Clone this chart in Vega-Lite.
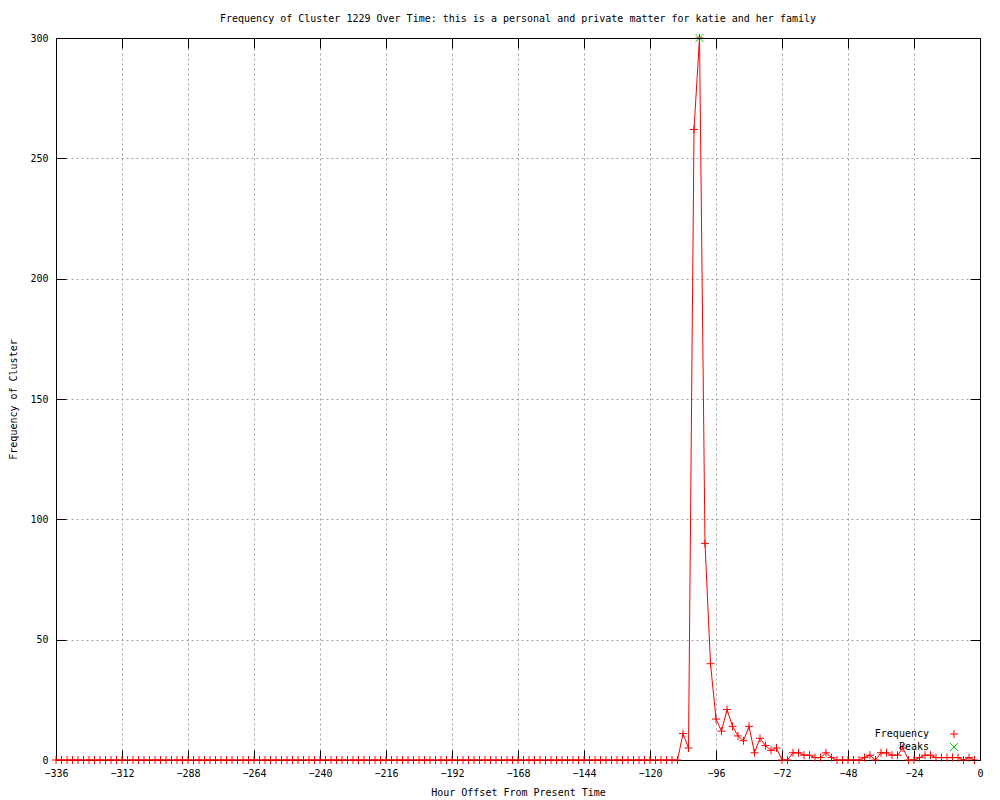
{
"$schema": "https://vega.github.io/schema/vega-lite/v6.json",
"width": 924,
"height": 722,
"autosize": {"type": "none"},
"padding": {"left": 56, "top": 38, "right": 20, "bottom": 40},
"background": "white",
"config": {
  "font": "DejaVu Sans Mono",
  "view": {"stroke": "black", "strokeWidth": 1},
  "axis": {
    "labelFontSize": 10, "labelColor": "black", "labelFont": "DejaVu Sans Mono",
    "titleFontSize": 10, "titleFontWeight": "normal", "titleColor": "black", "titleFont": "DejaVu Sans Mono",
    "domainColor": "black", "tickColor": "black", "tickSize": -10,
    "gridColor": "#a0a0a0", "gridDash": [2, 3], "gridOpacity": 1, "gridWidth": 1,
    "labelFlush": false, "labelOverlap": false
  }
},
"title": {"text": "Frequency of Cluster 1229 Over Time: this is a personal and private matter for katie and her family", "fontSize": 10, "fontWeight": "normal", "color": "black", "font": "DejaVu Sans Mono", "offset": 8},
"datasets": {
  "freq": [
    {"h": -336, "v": 0}, {"h": -334, "v": 0}, {"h": -332, "v": 0}, {"h": -330, "v": 0}, {"h": -328, "v": 0}, {"h": -326, "v": 0}, {"h": -324, "v": 0}, {"h": -322, "v": 0}, {"h": -320, "v": 0}, {"h": -318, "v": 0}, {"h": -316, "v": 0}, {"h": -314, "v": 0},
    {"h": -312, "v": 0}, {"h": -310, "v": 0}, {"h": -308, "v": 0}, {"h": -306, "v": 0}, {"h": -304, "v": 0}, {"h": -302, "v": 0}, {"h": -300, "v": 0}, {"h": -298, "v": 0}, {"h": -296, "v": 0}, {"h": -294, "v": 0}, {"h": -292, "v": 0}, {"h": -290, "v": 0},
    {"h": -288, "v": 0}, {"h": -286, "v": 0}, {"h": -284, "v": 0}, {"h": -282, "v": 0}, {"h": -280, "v": 0}, {"h": -278, "v": 0}, {"h": -276, "v": 0}, {"h": -274, "v": 0}, {"h": -272, "v": 0}, {"h": -270, "v": 0}, {"h": -268, "v": 0}, {"h": -266, "v": 0},
    {"h": -264, "v": 0}, {"h": -262, "v": 0}, {"h": -260, "v": 0}, {"h": -258, "v": 0}, {"h": -256, "v": 0}, {"h": -254, "v": 0}, {"h": -252, "v": 0}, {"h": -250, "v": 0}, {"h": -248, "v": 0}, {"h": -246, "v": 0}, {"h": -244, "v": 0}, {"h": -242, "v": 0},
    {"h": -240, "v": 0}, {"h": -238, "v": 0}, {"h": -236, "v": 0}, {"h": -234, "v": 0}, {"h": -232, "v": 0}, {"h": -230, "v": 0}, {"h": -228, "v": 0}, {"h": -226, "v": 0}, {"h": -224, "v": 0}, {"h": -222, "v": 0}, {"h": -220, "v": 0}, {"h": -218, "v": 0},
    {"h": -216, "v": 0}, {"h": -214, "v": 0}, {"h": -212, "v": 0}, {"h": -210, "v": 0}, {"h": -208, "v": 0}, {"h": -206, "v": 0}, {"h": -204, "v": 0}, {"h": -202, "v": 0}, {"h": -200, "v": 0}, {"h": -198, "v": 0}, {"h": -196, "v": 0}, {"h": -194, "v": 0},
    {"h": -192, "v": 0}, {"h": -190, "v": 0}, {"h": -188, "v": 0}, {"h": -186, "v": 0}, {"h": -184, "v": 0}, {"h": -182, "v": 0}, {"h": -180, "v": 0}, {"h": -178, "v": 0}, {"h": -176, "v": 0}, {"h": -174, "v": 0}, {"h": -172, "v": 0}, {"h": -170, "v": 0},
    {"h": -168, "v": 0}, {"h": -166, "v": 0}, {"h": -164, "v": 0}, {"h": -162, "v": 0}, {"h": -160, "v": 0}, {"h": -158, "v": 0}, {"h": -156, "v": 0}, {"h": -154, "v": 0}, {"h": -152, "v": 0}, {"h": -150, "v": 0}, {"h": -148, "v": 0}, {"h": -146, "v": 0},
    {"h": -144, "v": 0}, {"h": -142, "v": 0}, {"h": -140, "v": 0}, {"h": -138, "v": 0}, {"h": -136, "v": 0}, {"h": -134, "v": 0}, {"h": -132, "v": 0}, {"h": -130, "v": 0}, {"h": -128, "v": 0}, {"h": -126, "v": 0}, {"h": -124, "v": 0}, {"h": -122, "v": 0},
    {"h": -120, "v": 0}, {"h": -118, "v": 0}, {"h": -116, "v": 0}, {"h": -114, "v": 0}, {"h": -112, "v": 0}, {"h": -110, "v": 0}, {"h": -108, "v": 11}, {"h": -106, "v": 5}, {"h": -104, "v": 262}, {"h": -102, "v": 300}, {"h": -100, "v": 90}, {"h": -98, "v": 40},
    {"h": -96, "v": 17}, {"h": -94, "v": 12}, {"h": -92, "v": 21}, {"h": -90, "v": 14}, {"h": -88, "v": 10}, {"h": -86, "v": 8}, {"h": -84, "v": 14}, {"h": -82, "v": 3}, {"h": -80, "v": 9}, {"h": -78, "v": 6}, {"h": -76, "v": 4}, {"h": -74, "v": 5},
    {"h": -72, "v": 0}, {"h": -70, "v": 0}, {"h": -68, "v": 3}, {"h": -66, "v": 3}, {"h": -64, "v": 2}, {"h": -62, "v": 2}, {"h": -60, "v": 1}, {"h": -58, "v": 1}, {"h": -56, "v": 3}, {"h": -54, "v": 1}, {"h": -52, "v": 0}, {"h": -50, "v": 0},
    {"h": -48, "v": 0}, {"h": -46, "v": 0}, {"h": -44, "v": 0}, {"h": -42, "v": 1}, {"h": -40, "v": 2}, {"h": -38, "v": 0}, {"h": -36, "v": 3}, {"h": -34, "v": 3}, {"h": -32, "v": 2}, {"h": -30, "v": 2}, {"h": -28, "v": 5}, {"h": -26, "v": 0},
    {"h": -24, "v": 0}, {"h": -22, "v": 1}, {"h": -20, "v": 2}, {"h": -18, "v": 2}, {"h": -16, "v": 1}, {"h": -14, "v": 1}, {"h": -12, "v": 1}, {"h": -10, "v": 1}, {"h": -8, "v": 1}, {"h": -6, "v": 0}, {"h": -4, "v": 1}, {"h": -2, "v": 0}
  ],
  "peaks": [{"h": -102, "v": 300}]
},
"layer": [
  {
    "data": {"name": "freq"},
    "mark": {"type": "line", "color": "red", "strokeWidth": 1},
    "encoding": {
      "x": {"field": "h", "type": "quantitative", "scale": {"domain": [-336, 0], "nice": false, "zero": false},
        "axis": {"values": [-336, -312, -288, -264, -240, -216, -192, -168, -144, -120, -96, -72, -48, -24, 0], "title": "Hour Offset From Present Time", "labelPadding": 18, "titlePadding": 9}},
      "y": {"field": "v", "type": "quantitative", "scale": {"domain": [0, 300], "nice": false},
        "axis": {"values": [0, 50, 100, 150, 200, 250, 300], "title": "Frequency of Cluster", "labelPadding": 18, "titlePadding": 11}}
    }
  },
  {
    "data": {"name": "freq"},
    "mark": {"type": "point", "filled": false, "strokeWidth": 1, "size": 64, "opacity": 1},
    "encoding": {
      "x": {"field": "h", "type": "quantitative", "axis": null},
      "y": {"field": "v", "type": "quantitative", "axis": null},
      "shape": {"datum": "Frequency", "scale": {"domain": ["Frequency", "Peaks"], "range": ["M-1,0H1M0,-1V1", "M-1,-1L1,1M1,-1L-1,1"]},
        "legend": {"title": null, "orient": "none", "legendX": 893, "legendY": 691, "labelAlign": "right", "labelOffset": -30, "symbolSize": 64, "symbolStrokeWidth": 1, "labelFontSize": 10, "labelFont": "DejaVu Sans Mono", "labelColor": "black", "rowPadding": 1}},
      "color": {"datum": "Frequency", "scale": {"domain": ["Frequency", "Peaks"], "range": ["red", "#00c000"]},
        "legend": {"title": null, "orient": "none", "legendX": 893, "legendY": 691, "labelAlign": "right", "labelOffset": -30, "symbolSize": 64, "symbolStrokeWidth": 1, "labelFontSize": 10, "labelFont": "DejaVu Sans Mono", "labelColor": "black", "rowPadding": 1}}
    }
  },
  {
    "data": {"name": "peaks"},
    "mark": {"type": "point", "filled": false, "strokeWidth": 1, "size": 64, "opacity": 1},
    "encoding": {
      "x": {"field": "h", "type": "quantitative", "axis": {"orient": "top", "values": [-336, -312, -288, -264, -240, -216, -192, -168, -144, -120, -96, -72, -48, -24, 0], "labels": false, "grid": false, "title": null, "domain": true, "zindex": 1}},
      "y": {"field": "v", "type": "quantitative", "axis": {"orient": "right", "values": [0, 50, 100, 150, 200, 250, 300], "labels": false, "grid": false, "title": null, "domain": true, "zindex": 1}},
      "shape": {"datum": "Peaks"},
      "color": {"datum": "Peaks"}
    }
  }
],
"resolve": {"axis": {"x": "independent", "y": "independent"}}
}
